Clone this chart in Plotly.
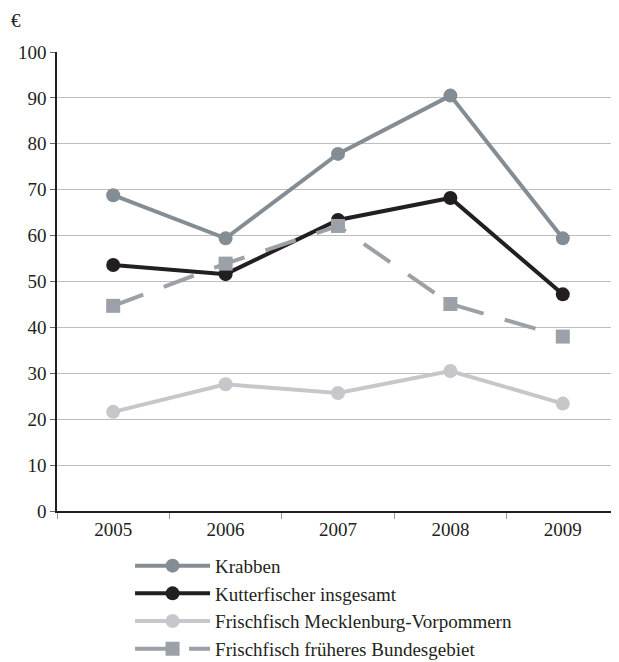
import plotly.graph_objects as go

years = ["2005", "2006", "2007", "2008", "2009"]
krabben = [68.8, 59.4, 77.8, 90.5, 59.4]
kutter = [53.6, 51.6, 63.4, 68.2, 47.2]
frisch_mv = [21.6, 27.6, 25.7, 30.5, 23.4]
frisch_fbg = [44.7, 53.9, 62.1, 45.1, 38.0]

font = "Liberation Serif, Times New Roman, serif"

fig = go.Figure()

# Reihenfolge wie in der Legende
fig.add_trace(go.Scatter(
    x=years, y=krabben, name="Krabben", mode="lines+markers",
    line=dict(color="#858d94", width=4),
    marker=dict(symbol="circle", size=14, color="#858d94"),
))
fig.add_trace(go.Scatter(
    x=years, y=kutter, name="Kutterfischer insgesamt", mode="lines+markers",
    line=dict(color="#231f20", width=4),
    marker=dict(symbol="circle", size=14, color="#231f20"),
))
fig.add_trace(go.Scatter(
    x=years, y=frisch_mv, name="Frischfisch Mecklenburg-Vorpommern",
    mode="lines+markers",
    line=dict(color="#c5c7cb", width=4),
    marker=dict(symbol="circle", size=14, color="#c5c7cb"),
))
fig.add_trace(go.Scatter(
    x=years, y=frisch_fbg, name="Frischfisch früheres Bundesgebiet",
    mode="lines+markers",
    line=dict(color="#9ba1a6", width=4, dash="32px,22px"),
    marker=dict(symbol="square", size=14, color="#9ba1a6"),
))

fig.add_annotation(
    text="€", xref="paper", yref="paper", x=-0.085, y=1.068,
    xanchor="left", yanchor="middle", showarrow=False,
    font=dict(family=font, size=19, color="#231f20"),
)

# die Seite hat 8px Rand, daher etwas kleiner
fig.update_layout(
    width=611, height=654,
    margin=dict(l=49, r=0, t=44, b=151, autoexpand=False),
    paper_bgcolor="white", plot_bgcolor="white",
    font=dict(family=font, size=19, color="#231f20"),
    showlegend=True,
    legend=dict(
        orientation="v", x=0.13, y=-0.078, xanchor="left", yanchor="top",
        font=dict(family=font, size=19), tracegroupgap=0,
        itemwidth=75, bgcolor="rgba(0,0,0,0)",
    ),
    xaxis=dict(
        type="category", range=[-0.5, 4.5], automargin=False,
        showline=True, linecolor="#231f20", linewidth=1.5,
        ticks="outside", tickson="boundaries", ticklen=6,
        tickcolor="#999999", showgrid=False,
    ),
    yaxis=dict(
        range=[0, 100], dtick=10, automargin=False,
        showline=True, linecolor="#231f20", linewidth=1.5,
        ticks="outside", ticklen=5, tickcolor="#666666",
        showgrid=True, gridcolor="#bdbdbd", gridwidth=1.2,
        zeroline=False,
    ),
)

fig.write_html("out.html")
